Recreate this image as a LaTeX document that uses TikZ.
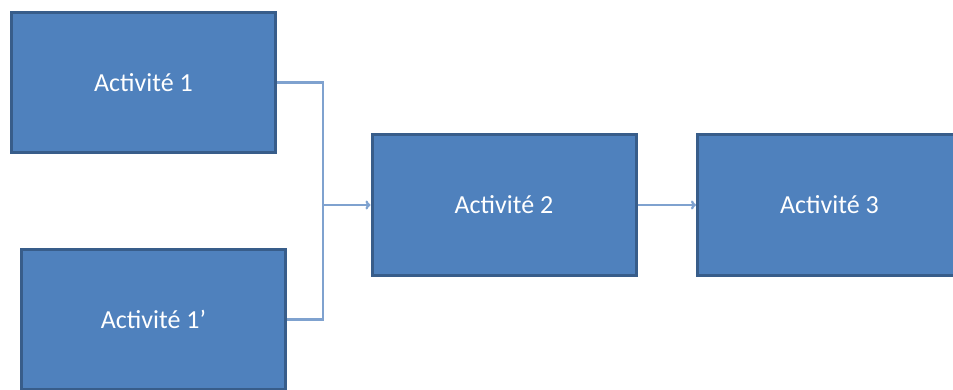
\documentclass[tikz,border=0pt]{standalone}
\usepackage{fontspec}
\setmainfont{Carlito}
\usepackage{xcolor}
\usetikzlibrary{arrows.meta,positioning}

\definecolor{boxfill}{HTML}{4F81BD}
\definecolor{boxline}{HTML}{385D8A}
\definecolor{linkcol}{HTML}{7FA2CF}

\tikzset{
  activite/.style={rectangle, draw=boxline, fill=boxfill, line width=3pt,
    minimum width=264pt, minimum height=140pt, text=white,
    font=\fontsize{26}{31}\selectfont},
  link/.style={draw=linkcol, line width=2.2pt},
}

\begin{document}
\begin{tikzpicture}[x=1pt,y=-1pt]
        % Page frame
        \useasboundingbox (0,0) rectangle (953,390);
        \clip (0,0) rectangle (953,390);

        % Activities
        \node[activite] (a1) at (143.5,82.5) {Activité 1};
        \node[activite] (a1p) at (153.5,319.5) {Activité 1’};
        \node[activite] (a2) at (504,205) {Activité 2};
        \node[activite] (a3) at (829.5,205) {Activité 3};

        % Junction
        \coordinate (junc) at (323,205);

        % Links
        \draw[link] (a1.east) -| (junc);
        \draw[link] (a1p.east) -| (junc);
        \draw[link, -{To[length=5pt,width=9pt]}] (junc) -- (a2.west);
        \draw[link, -{To[length=5pt,width=9pt]}] (a2.east) -- (a3.west);
\end{tikzpicture}
\end{document}
